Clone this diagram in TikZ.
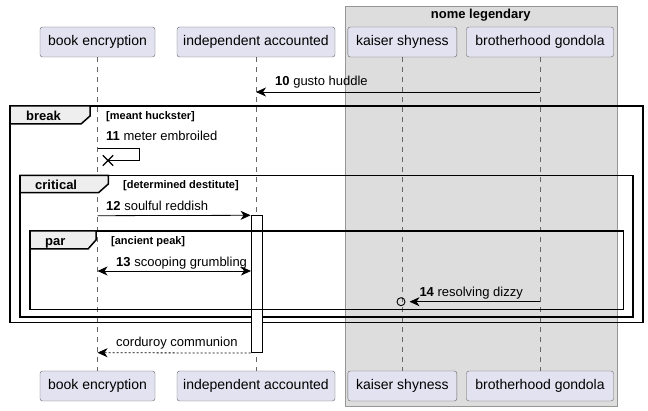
\documentclass[tikz,border=0pt]{standalone}
\usepackage{fontspec}
\setmainfont{Liberation Sans}
\usetikzlibrary{arrows.meta}
\usetikzlibrary{shapes.misc}

\definecolor{partfill}{RGB}{226,226,240}
\definecolor{partline}{RGB}{100,100,100}
\definecolor{boxfill}{RGB}{221,221,221}
\definecolor{boxline}{RGB}{150,150,150}
\definecolor{tabfill}{RGB}{238,238,238}

\begin{document}
\begin{tikzpicture}[x=1pt, y=-1pt,
    participant/.style={draw=partline, fill=partfill, rounded corners=2.5pt, minimum height=30, inner sep=0pt, font=\fontsize{14}{16}\selectfont},
    lifeline/.style={draw=gray!80!black, line width=0.6pt, dash pattern=on 5pt off 5pt},
    msg/.style={-{Stealth[length=10pt, width=9pt, inset=3pt]}, line width=0.8pt},
    msglabel/.style={anchor=base west, inner sep=0pt, font=\fontsize{13}{15}\selectfont},
    frame/.style={draw=black, line width=1.5pt},
    tabbox/.style={draw=black, line width=1.5pt, fill=tabfill},
    tablabel/.style={anchor=base west, inner sep=0pt, font=\bfseries\fontsize{13}{15}\selectfont},
    guard/.style={anchor=base west, inner sep=0pt, font=\bfseries\fontsize{11}{13}\selectfont}]
  \useasboundingbox (0,0) rectangle (648,411);

  % box round the last two participants
  \draw[draw=boxline, fill=boxfill] (344.7,6) rectangle (617,406.7);
  \node[anchor=base, inner sep=0pt, font=\bfseries\fontsize{13}{15}\selectfont] (grp) at (480.8,19) {nome legendary};

  % participants, top and bottom
  \node[participant, minimum width=115] (be) at (97.5,42) {book encryption};
  \node[participant, minimum width=158] (ia) at (256,42) {independent accounted};
  \node[participant, minimum width=109] (ks) at (402.3,42) {kaiser shyness};
  \node[participant, minimum width=147] (bg) at (540,42) {brotherhood gondola};
  \node[participant, minimum width=115] (be2) at (97.5,386) {book encryption};
  \node[participant, minimum width=158] (ia2) at (256,386) {independent accounted};
  \node[participant, minimum width=109] (ks2) at (402.3,386) {kaiser shyness};
  \node[participant, minimum width=147] (bg2) at (540,386) {brotherhood gondola};

  \draw[lifeline] (be.south) -- (be2.north);
  \draw[lifeline] (ia.south) -- (ia2.north);
  \draw[lifeline] (ks.south) -- (ks2.north);
  \draw[lifeline] (bg.south) -- (bg2.north);

  % message 10
  \coordinate (m10a) at (540,92);
  \coordinate (m10b) at (256,92);
  \draw[msg] (m10a) -- (m10b);
  \node[msglabel] (l10) at (275,85.5) {\textbf{10} gusto huddle};

  % break frame
  \draw[frame] (10,106) rectangle (643,322.7);
  \draw[tabbox] (10,106) -- (90,106) -- (90,116) -- (81,124) -- (10,124) -- cycle;
  \node[tablabel] (t1) at (26,120.5) {break};
  \node[guard] (g1) at (106,120) {[meant huckster]};

  % message 11, lost
  \coordinate (m11a) at (97.5,148.3);
  \node[draw, cross out, minimum size=9, inner sep=0pt, line width=1.4pt] (x11) at (108,160.5) {};
  \draw[line width=0.8pt] (m11a) -- (139.3,148.3) -- (139.3,160.5) -- (x11.center);
  \node[msglabel] (l11) at (106,141) {\textbf{11} meter embroiled};

  % critical frame
  \draw[frame] (20,175.5) rectangle (633,317);
  \draw[tabbox] (20,175.5) -- (108.3,175.5) -- (108.3,184) -- (98.5,192.7) -- (20,192.7) -- cycle;
  \node[tablabel] (t2) at (35,189.5) {critical};
  \node[guard] (g2) at (123,188.5) {[determined destitute]};

  % activation
  \node[draw, fill=white, line width=0.8pt, minimum width=11, minimum height=137, inner sep=0pt] (act) at (256.5,284.2) {};

  % message 12
  \coordinate (m12a) at (97.5,215.7);
  \draw[msg] (m12a) -- (act.north west);
  \node[msglabel] (l12) at (106,210.5) {\textbf{12} soulful reddish};

  % par frame
  \draw[frame] (30,231) rectangle (623.3,309.3);
  \draw[tabbox] (30,231) -- (96,231) -- (96,240) -- (88,249) -- (30,249) -- cycle;
  \node[tablabel] (t3) at (45,245.5) {par};
  \node[guard] (g3) at (111,244.5) {[ancient peak]};

  % message 13
  \coordinate (m13a) at (97.5,271);
  \coordinate (m13b) at (251,271);
  \draw[{Stealth[length=10pt, width=9pt, inset=3pt]}-{Stealth[length=10pt, width=9pt, inset=3pt]}, line width=0.8pt] (m13a) -- (m13b);
  \node[msglabel] (l13) at (116,266.5) {\textbf{13} scooping grumbling};

  % message 14
  \coordinate (m14a) at (540,301.7);
  \node[circle, draw, minimum size=8, inner sep=0pt, line width=0.9pt] (o14) at (401,301.7) {};
  \coordinate (m14b) at (409.5,301.7);
  \draw[msg] (m14a) -- (m14b);
  \node[msglabel] (l14) at (419.3,296.7) {\textbf{14} resolving dizzy};

  % return
  \coordinate (m15b) at (97.5,352.7);
  \draw[msg, dash pattern=on 2pt off 2pt] (act.south west) -- (m15b);
  \node[msglabel] (l15) at (116,347) {corduroy communion};
\end{tikzpicture}
\end{document}
